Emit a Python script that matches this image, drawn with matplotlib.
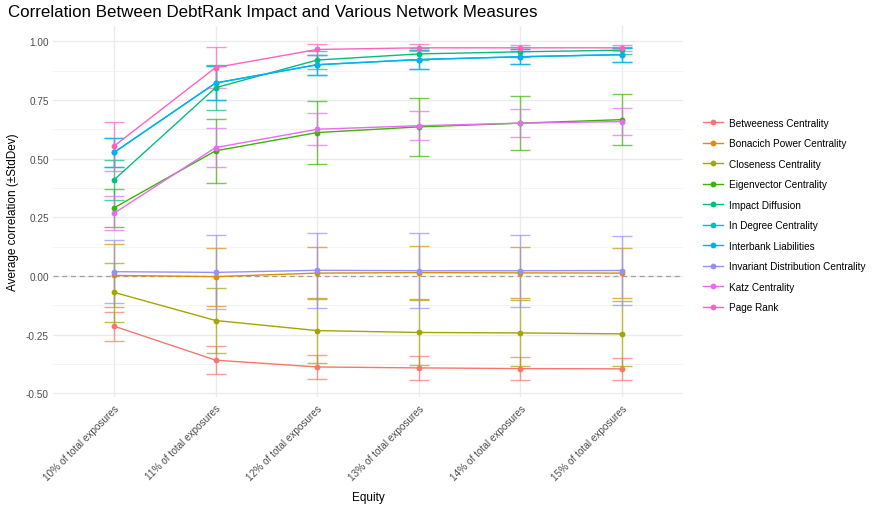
import matplotlib
matplotlib.use("Agg")
import matplotlib.pyplot as plt
from matplotlib.lines import Line2D
import numpy as np

plt.rcParams['font.family'] = ['Liberation Sans', 'DejaVu Sans']

categories = ["10% of total exposures", "11% of total exposures", "12% of total exposures",
              "13% of total exposures", "14% of total exposures", "15% of total exposures"]

series_names = ["Betweeness Centrality", "Bonacich Power Centrality", "Closeness Centrality",
                "Eigenvector Centrality", "Impact Diffusion", "In Degree Centrality",
                "Interbank Liabilities", "Invariant Distribution Centrality", "Katz Centrality",
                "Page Rank"]

betweeness_mean = [-0.214, -0.359, -0.388, -0.392, -0.395, -0.396]
betweeness_sd = [0.062, 0.059, 0.052, 0.051, 0.050, 0.048]
bonacich_mean = [0.002, -0.003, 0.012, 0.014, 0.013, 0.012]
bonacich_sd = [0.136, 0.124, 0.112, 0.112, 0.109, 0.108]
closeness_mean = [-0.070, -0.190, -0.233, -0.241, -0.243, -0.247]
closeness_sd = [0.125, 0.140, 0.139, 0.140, 0.140, 0.139]
eigenvector_mean = [0.290, 0.533, 0.611, 0.635, 0.651, 0.666]
eigenvector_sd = [0.082, 0.135, 0.133, 0.124, 0.115, 0.109]
impact_mean = [0.409, 0.802, 0.920, 0.946, 0.955, 0.962]
impact_sd = [0.086, 0.095, 0.038, 0.025, 0.020, 0.015]
indegree_mean = [0.526, 0.822, 0.900, 0.922, 0.934, 0.943]
indegree_sd = [0.062, 0.074, 0.043, 0.040, 0.033, 0.030]
interbank_mean = [0.526, 0.822, 0.900, 0.922, 0.934, 0.943]
interbank_sd = [0.060, 0.074, 0.043, 0.040, 0.033, 0.030]
invariant_mean = [0.018, 0.015, 0.024, 0.022, 0.022, 0.023]
invariant_sd = [0.134, 0.158, 0.160, 0.159, 0.153, 0.148]
katz_mean = [0.267, 0.547, 0.625, 0.640, 0.651, 0.658]
katz_sd = [0.073, 0.083, 0.068, 0.062, 0.059, 0.056]
pagerank_mean = [0.553, 0.888, 0.965, 0.972, 0.972, 0.972]
pagerank_sd = [0.105, 0.088, 0.025, 0.015, 0.013, 0.013]

means = [betweeness_mean, bonacich_mean, closeness_mean, eigenvector_mean, impact_mean,
         indegree_mean, interbank_mean, invariant_mean, katz_mean, pagerank_mean]
sds = [betweeness_sd, bonacich_sd, closeness_sd, eigenvector_sd, impact_sd,
       indegree_sd, interbank_sd, invariant_sd, katz_sd, pagerank_sd]
colors = ["#F8766D", "#D89000", "#A3A500", "#39B600", "#00BF7D",
          "#00BFC4", "#00B0F6", "#9590FF", "#E76BF3", "#FF62BC"]

W, H = 874, 506
fig = plt.figure(figsize=(W / 100, H / 100), dpi=100)
ax = fig.add_axes([53 / W, 1 - 398 / H, (683 - 53) / W, (398 - 27) / H])

x = np.arange(len(categories))

ax.axhline(0, color="#A0A0A0", linestyle=(0, (4, 3)), linewidth=0.9, zorder=1)

handles = []
for name, m, s, c in zip(series_names, means, sds, colors):
    m = np.array(m)
    s = np.array(s)
    ax.errorbar(x, m, yerr=s, fmt='none', ecolor=c, elinewidth=1.0, capsize=7.5,
                capthick=1.0, alpha=0.7, zorder=2)
    ax.plot(x, m, color=c, linewidth=1.0, alpha=1.0, zorder=3)
    ax.plot(x, m, 'o', color=c, markersize=4.2, zorder=4, markeredgewidth=0)
    handles.append(Line2D([0], [0], color=c, linewidth=1.0, marker='o', markersize=4.2,
                          markeredgewidth=0))

ax.set_xlim(-0.6, len(categories) - 1 + 0.6)
ax.set_ylim(-0.516, 1.065)
ax.set_xticks(x)
ax.set_xticklabels(categories, rotation=45, ha='right', va='top', rotation_mode='anchor',
                   fontsize=7.2, color="#4D4D4D")
ax.set_yticks([-0.5, -0.25, 0, 0.25, 0.5, 0.75, 1.0])
ax.set_yticklabels(["-0.50", "-0.25", "0.00", "0.25", "0.50", "0.75", "1.00"],
                   fontsize=7.2, color="#4D4D4D")
ax.set_yticks(np.arange(-0.375, 1.0, 0.25), minor=True)
ax.tick_params(axis='both', which='both', length=0, pad=3)
ax.tick_params(axis='x', pad=4)
ax.grid(True, which='major', color="#EBEBEB", linewidth=1.0, zorder=0)
ax.grid(True, which='minor', axis='y', color="#F2F2F2", linewidth=0.6, zorder=0)
ax.set_axisbelow(True)
for sp in ax.spines.values():
    sp.set_visible(False)

ax.set_xlabel("Equity", fontsize=8.5, labelpad=7)
ax.set_ylabel("Average correlation (\u00b1StdDev)", fontsize=8.5, labelpad=5)

fig.text(8 / W, 1 - 12 / H, "Correlation Between DebtRank Impact and Various Network Measures",
         fontsize=12.2, ha='left', va='center')

fig.legend(handles, series_names, loc='center left', bbox_to_anchor=(703 / W, 1 - 216 / H),
           frameon=False, fontsize=7.2, labelspacing=1.05, handlelength=2.0,
           handletextpad=0.6, borderpad=0, borderaxespad=0)

fig.savefig("out.png", dpi=100)
